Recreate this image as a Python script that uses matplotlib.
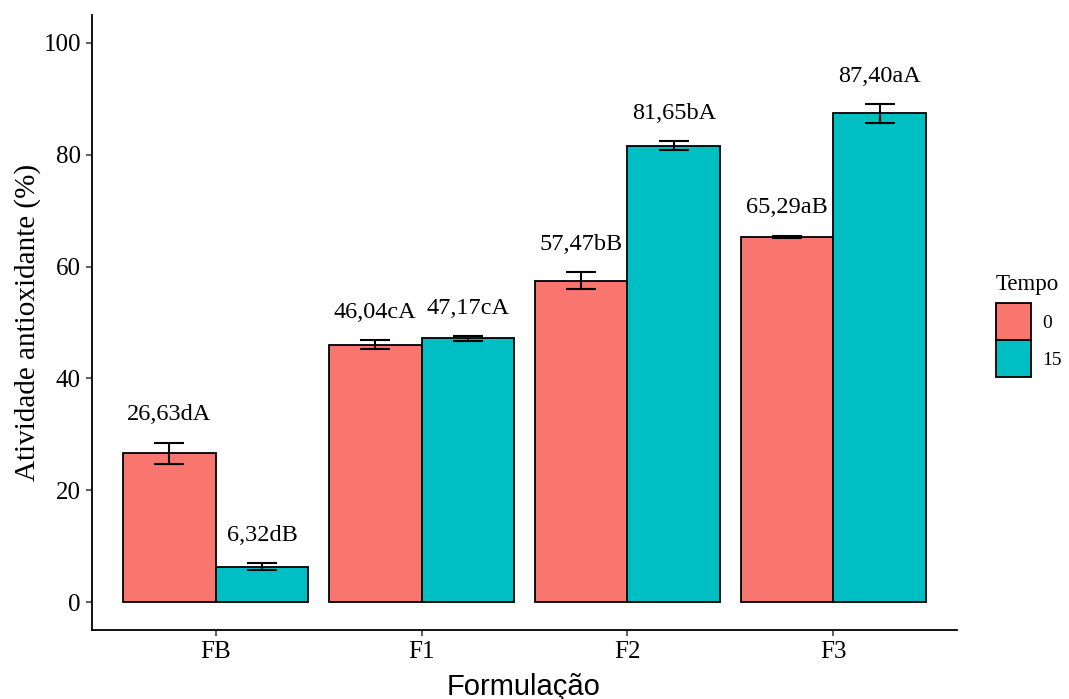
import numpy as np
import matplotlib.pyplot as plt
from matplotlib.patches import Patch

# data: mean antioxidant activity (%) by formulation and time
formulacoes = ["FB", "F1", "F2", "F3"]
tempos = ["0", "15"]
media_0 = [26.63, 46.04, 57.47, 65.29]
media_15 = [6.32, 47.17, 81.65, 87.40]
dp_0 = [1.9, 0.8, 1.5, 0.2]
dp_15 = [0.65, 0.4, 0.8, 1.65]
rotulos_0 = ["26,63dA", "46,04cA", "57,47bB", "65,29aB"]
rotulos_15 = ["6,32dB", "47,17cA", "81,65bA", "87,40aA"]
cores = ["#F8766D", "#00BFC4"]

serif = "Liberation Serif"

fig = plt.figure(figsize=(10.69, 6.99), dpi=100)
ax = fig.add_axes([92/1069, 1-630/699, (957-92)/1069, (630-15)/699])

x = np.arange(len(formulacoes))
w = 0.45
series = [(media_0, dp_0, rotulos_0), (media_15, dp_15, rotulos_15)]
for i, (m, sd, lab) in enumerate(series):
    xs = x + (i - 0.5) * w
    ax.bar(xs, m, width=w, color=cores[i], edgecolor="black", linewidth=1.3, zorder=2)
    ax.errorbar(xs, m, yerr=sd, fmt="none", ecolor="black", elinewidth=1.5,
                capsize=10.5, capthick=1.5, zorder=3)
    for xi, mi, si, t in zip(xs, m, sd, lab):
        ax.text(xi, mi + si + 5.0, t, ha="center", va="center",
                fontsize=17.5, family=serif)

ax.set_xlim(-0.6, 3.6)
ax.set_ylim(-5, 105)
ax.set_yticks([0, 20, 40, 60, 80, 100])
ax.set_xticks(x)
ax.set_xticklabels(formulacoes)
for lbl in ax.get_xticklabels() + ax.get_yticklabels():
    lbl.set_family(serif)
    lbl.set_fontsize(18)
ax.tick_params(direction="out", length=4, width=1.1, color="#333333", pad=4)
for s in ["top", "right"]:
    ax.spines[s].set_visible(False)
for s in ["left", "bottom"]:
    ax.spines[s].set_linewidth(1.3)

ax.set_ylabel("Atividade antioxidante (%)", fontsize=21, family=serif, labelpad=2)
fig.text(524/1069, 1-695/699, "Formulação", ha="center", va="baseline",
         fontsize=21, family="Liberation Sans")

handles = [Patch(facecolor=c, edgecolor="black", linewidth=1.3) for c in cores]
leg = fig.legend(handles, tempos, title="Tempo", loc="upper left",
                 bbox_to_anchor=(996/1069, 1-274/699), frameon=False,
                 prop={"family": serif, "size": 14}, borderpad=0,
                 borderaxespad=0, handlelength=1.8, handleheight=2.55,
                 labelspacing=0.0, handletextpad=0.6)
leg.get_title().set_family(serif)
leg.get_title().set_fontsize(16.5)
leg._legend_box.align = "left"
leg._legend_box.sep = 6

fig.savefig("out.png", dpi=100)
